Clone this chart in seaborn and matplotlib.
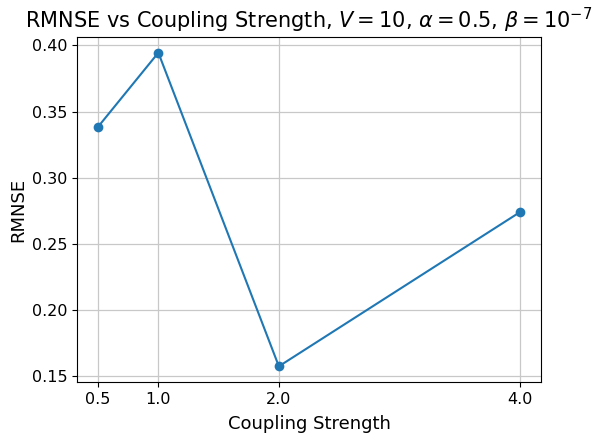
import matplotlib
matplotlib.use("Agg")
import matplotlib.pyplot as plt
import seaborn as sns
import pandas as pd

coupling = [0.5, 1.0, 2.0, 4.0]
rmnse = [0.3385, 0.3945, 0.1575, 0.2740]

df = pd.DataFrame({"coupling": coupling, "rmnse": rmnse})

fig = plt.figure(figsize=(5.92, 4.36), dpi=100)
ax = fig.add_axes([77 / 592, 1 - 382 / 436, (541 - 77) / 592, (382 - 37) / 436])

sns.lineplot(data=df, x="coupling", y="rmnse", marker="o", markersize=7,
             markeredgewidth=0, color="#1f77b4", linewidth=1.5, ax=ax)

ax.set_xticks(coupling)
ax.set_xticklabels([f"{c:.1f}" for c in coupling])
ax.tick_params(labelsize=11.5)
ax.grid(True, color="#c8c8c8", linewidth=0.9)
ax.set_xlabel("Coupling Strength", fontsize=13, labelpad=6)
ax.set_ylabel("RMNSE", fontsize=13, labelpad=3)
ax.set_title(r"RMNSE vs Coupling Strength, $V = 10$, $\alpha = 0.5$, $\beta = 10^{-7}$",
             fontsize=15)

fig.savefig("out.png", dpi=100)
